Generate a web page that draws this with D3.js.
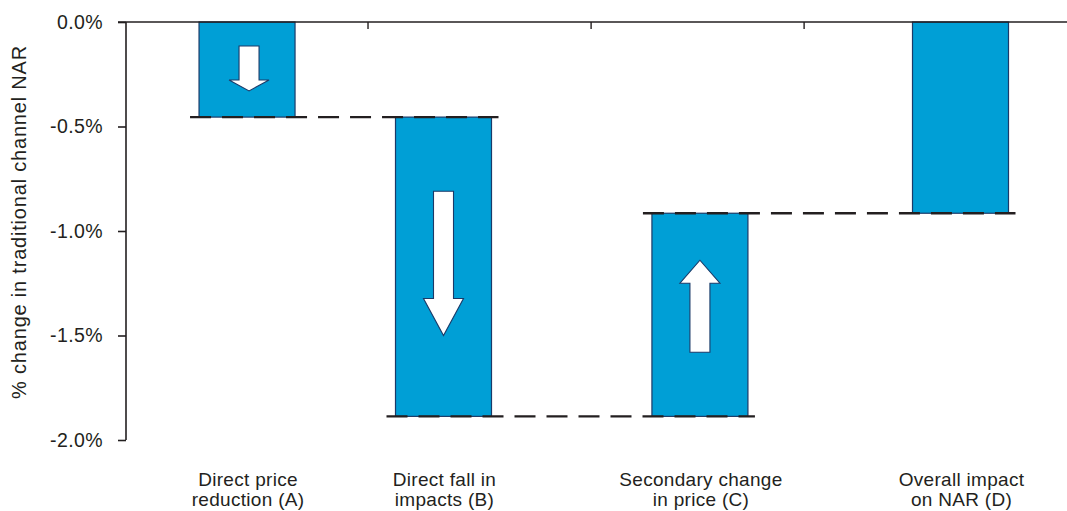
<!DOCTYPE html>
<html>
<head>
<meta charset="utf-8">
<script src="https://cdn.jsdelivr.net/npm/d3@7"></script>
<style>
  html, body { margin: 0; padding: 0; background: #fff; }
  svg text { font-family: "Liberation Sans", Arial, Helvetica, sans-serif; fill: #231f20; }
</style>
</head>
<body>
<svg id="chart" width="1067" height="511"></svg>
<script>
// ---- data ----
const categories = [
  ["Direct price", "reduction (A)"],
  ["Direct fall in", "impacts (B)"],
  ["Secondary change", "in price (C)"],
  ["Overall impact", "on NAR (D)"]
];
const changes = [-0.455, -1.432, 0.972];       // % change steps A, B, C
const yTicks = [0, -0.5, -1.0, -1.5, -2.0];
const yTickLabels = ["0.0%", "-0.5%", "-1.0%", "-1.5%", "-2.0%"];
const yTitle = "% change in traditional channel NAR";
const arrowFrom = [-0.115, -0.81, -1.58];
const arrowTo = [-0.33, -1.50, -1.14];

// ---- layout ----
const slots = [0.24, 1, 1.992, 3];
const topTickSlots = [0.708, 1.571, 2.395];
const arrowHeadLen = [11, 37, 23];
const barW = 96;

// waterfall bars
const bars = [];
let run = 0;
changes.forEach((c, i) => {
  bars.push({ i, start: run, end: run + c });
  run += c;
});
bars.push({ i: 3, start: 0, end: run });

const svg = d3.select("#chart");
const x = d3.scaleLinear().domain([0, 3]).range([185, 960.5]);
const y = d3.scaleLinear().domain([0, -2]).range([22, 440]);
const ink = "#231f20";

// y axis
const yAxis = d3.axisLeft(y).tickValues(yTicks).tickFormat((d, i) => yTickLabels[i])
  .tickSize(8).tickPadding(15);
const gy = svg.append("g").attr("transform", "translate(126,0)").call(yAxis);
gy.select(".domain").attr("stroke", ink).attr("stroke-width", 1.6).attr("d", `M0,${y(0)}V${y(-2)}`);
gy.selectAll(".tick line").attr("stroke", ink).attr("stroke-width", 1.6);
gy.selectAll(".tick text").attr("font-size", 19.5).attr("letter-spacing", 0.4).attr("fill", ink)
  .attr("font-family", "Liberation Sans, Arial, sans-serif");

// y title
svg.append("text")
  .attr("transform", `translate(26,${(y(0) + y(-2)) / 2 - 9}) rotate(-90)`)
  .attr("text-anchor", "middle")
  .attr("font-size", 20)
  .attr("letter-spacing", 0.8)
  .text(yTitle);

// bars
svg.append("g").selectAll("rect").data(bars).join("rect")
  .attr("x", d => x(slots[d.i]) - barW / 2)
  .attr("width", barW)
  .attr("y", d => y(Math.max(d.start, d.end)))
  .attr("height", d => Math.abs(y(d.end) - y(d.start)))
  .attr("fill", "#009fd6")
  .attr("stroke", "#1b3a68")
  .attr("stroke-width", 1.2);

// top axis line (zero line)
svg.append("line").attr("x1", 118).attr("x2", 1067).attr("y1", y(0)).attr("y2", y(0))
  .attr("stroke", ink).attr("stroke-width", 1.6);
svg.append("g").selectAll("line").data(topTickSlots).join("line")
  .attr("x1", d => x(d)).attr("x2", d => x(d))
  .attr("y1", y(0)).attr("y2", y(0) + 7)
  .attr("stroke", ink).attr("stroke-width", 1.4);

// dashed connectors
const connectors = [
  { a: 0, b: 1, v: bars[0].end },
  { a: 1, b: 2, v: bars[1].end },
  { a: 2, b: 3, v: bars[2].end }
];
svg.append("g").selectAll("line").data(connectors).join("line")
  .attr("x1", d => x(slots[d.a]) - barW / 2 - 9)
  .attr("x2", d => x(slots[d.b]) + barW / 2 + 7)
  .attr("y1", d => y(d.v)).attr("y2", d => y(d.v))
  .attr("stroke", ink).attr("stroke-width", 2.4)
  .attr("stroke-dasharray", "21,11");

// arrows
const arrowData = arrowFrom.map((f, i) => ({ i, f, t: arrowTo[i], h: arrowHeadLen[i] }));
svg.append("g").selectAll("path").data(arrowData).join("path")
  .attr("d", d => {
    const cx = x(slots[d.i]) + (d.i === 0 ? 2 : 0);
    const y0 = y(d.f), y1 = y(d.t);
    const dir = y1 > y0 ? 1 : -1;
    const yb = y1 - dir * d.h;
    const sw = 10, hw = 20;
    return `M${cx - sw},${y0}L${cx + sw},${y0}L${cx + sw},${yb}L${cx + hw},${yb}L${cx},${y1}L${cx - hw},${yb}L${cx - sw},${yb}Z`;
  })
  .attr("fill", "#fff")
  .attr("stroke", "#1b3a68")
  .attr("stroke-width", 1.1)
  .attr("stroke-linejoin", "miter");

// category labels
const lab = svg.append("g").selectAll("text").data(categories).join("text")
  .attr("text-anchor", "middle")
  .attr("font-size", 19)
  .attr("letter-spacing", 0.3)
  .attr("transform", (d, i) => `translate(${x(slots[i]) + 1},486)`);
lab.selectAll("tspan").data(d => d).join("tspan")
  .attr("x", 0).attr("dy", (d, j) => j === 0 ? 0 : 19.5)
  .text(d => d);
</script>
</body>
</html>
